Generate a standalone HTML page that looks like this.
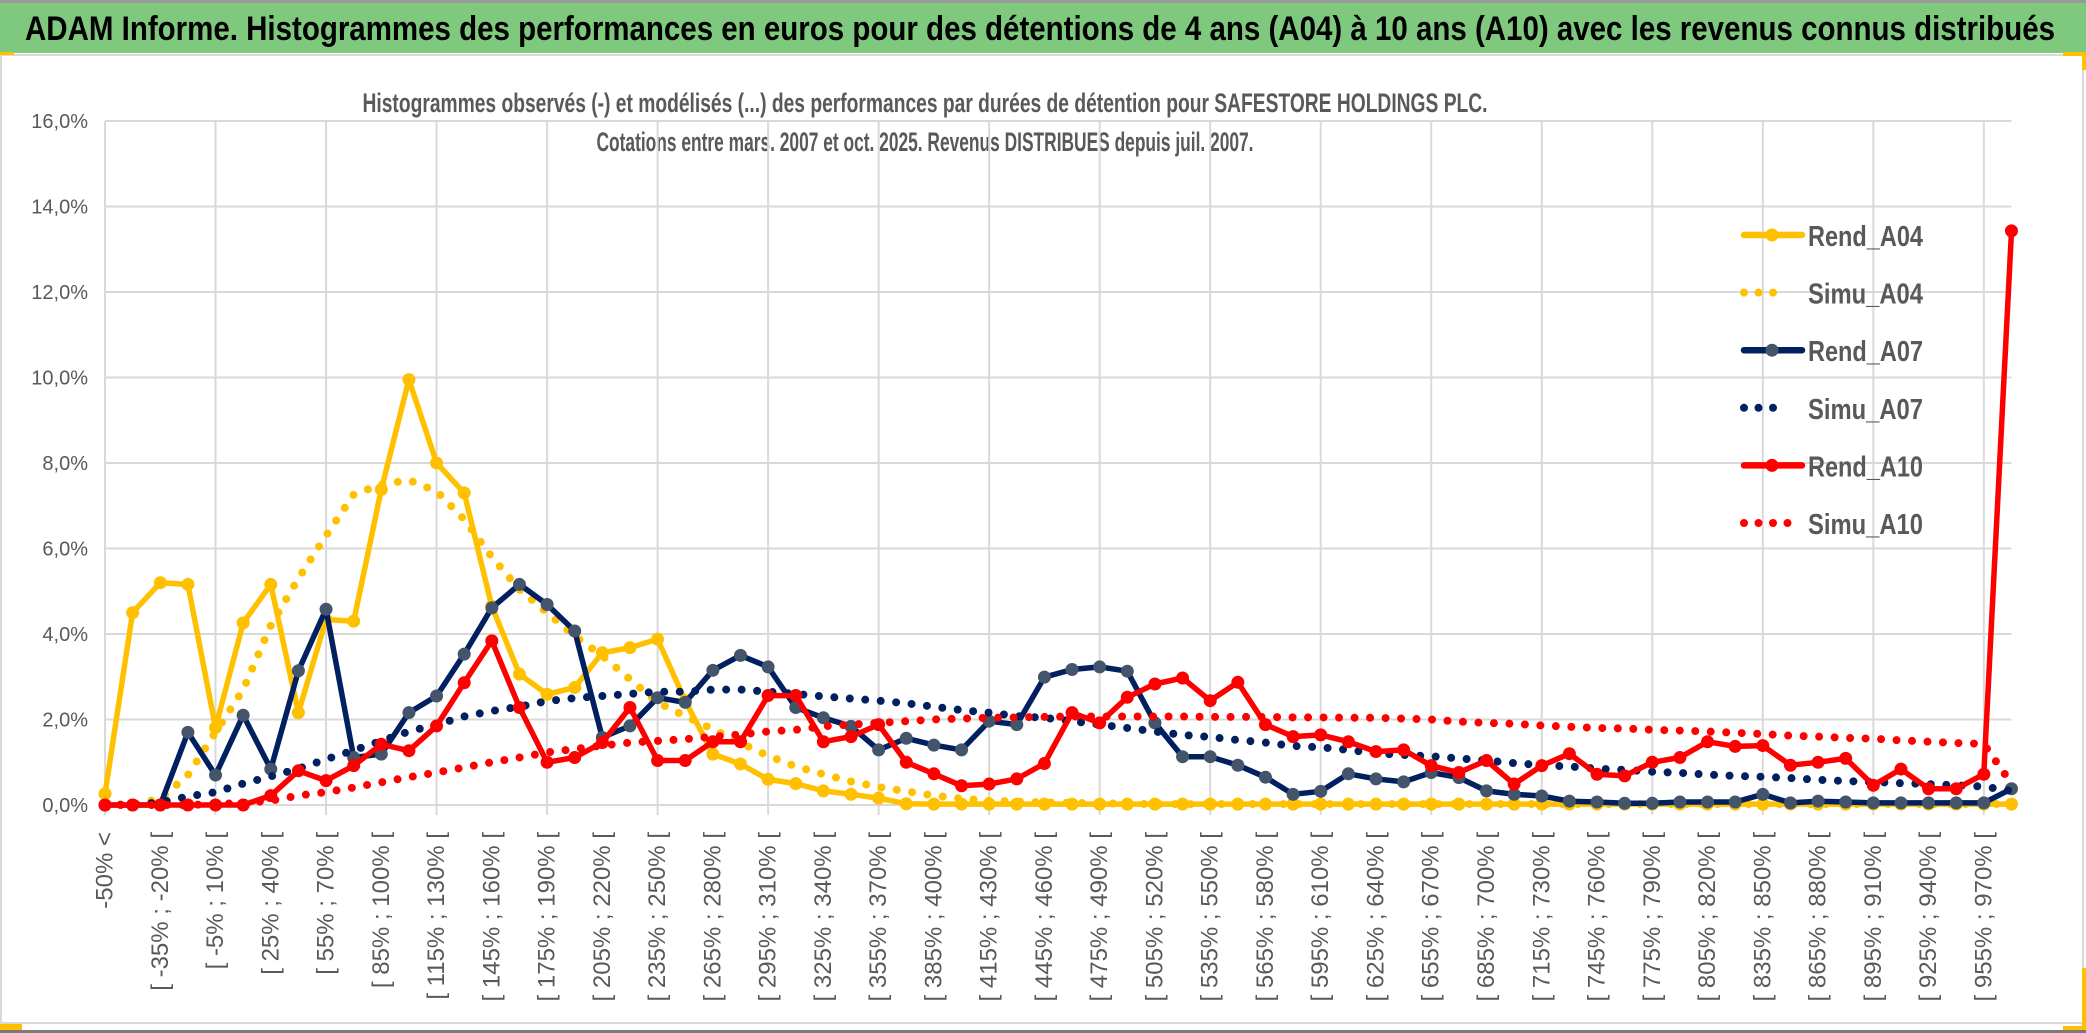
<!DOCTYPE html>
<html><head><meta charset="utf-8"><title>ADAM Informe</title>
<style>
html,body{margin:0;padding:0;background:#fff;}
svg{display:block;font-family:"Liberation Sans",sans-serif;}
</style></head>
<body>
<svg id="chart" width="2086" height="1033" viewBox="0 0 2086 1033">
  <rect x="0" y="0" width="2086" height="1033" fill="#ffffff"/>
  <rect x="0" y="0" width="2086" height="3" fill="#9a9a9a"/>
  <rect x="0" y="3" width="2086" height="50" fill="#7fc97e"/>
  <text x="25" y="40" font-size="34" font-weight="bold" fill="#000" textLength="2030" lengthAdjust="spacingAndGlyphs">ADAM Informe. Histogrammes des performances en euros pour des détentions de 4 ans (A04) à 10 ans (A10) avec les revenus connus distribués</text>
  <rect x="1" y="55" width="2082" height="968" fill="none" stroke="#d9d9d9" stroke-width="2"/>
  <rect x="0" y="52" width="14" height="3" fill="#ffc000"/>
  <rect x="2063" y="52" width="23" height="4" fill="#ffc000"/>
  <rect x="2082" y="52" width="4" height="18" fill="#ffc000"/>
  <rect x="2082" y="968" width="4" height="62" fill="#ffc000"/>
  <rect x="2063" y="1026" width="23" height="4" fill="#ffc000"/>
  <rect x="0" y="1030" width="2086" height="3" fill="#7a7a7a"/>
  <rect x="0" y="1024" width="22" height="6" fill="#ffc000"/>
  <text x="925" y="112" font-size="27" font-weight="bold" fill="#595959" text-anchor="middle" textLength="1125" lengthAdjust="spacingAndGlyphs">Histogrammes observés (-) et modélisés (...) des performances par durées de détention pour SAFESTORE HOLDINGS PLC.</text>
  <text x="925" y="151" font-size="27" font-weight="bold" fill="#595959" text-anchor="middle" textLength="657" lengthAdjust="spacingAndGlyphs">Cotations entre mars. 2007 et oct. 2025. Revenus DISTRIBUES depuis juil. 2007.</text>
  <g id="grid"></g>
  <g id="yaxis"></g>
  <g id="xaxis"></g>
  <g id="series"></g>
  <g id="legend"></g>
</svg>
<script>
const categories = ["-50% <","[ -50% ; -35% [","[ -35% ; -20% [","[ -20% ; -5% [","[ -5% ; 10% [","[ 10% ; 25% [","[ 25% ; 40% [","[ 40% ; 55% [","[ 55% ; 70% [","[ 70% ; 85% [","[ 85% ; 100% [","[ 100% ; 115% [","[ 115% ; 130% [","[ 130% ; 145% [","[ 145% ; 160% [","[ 160% ; 175% [","[ 175% ; 190% [","[ 190% ; 205% [","[ 205% ; 220% [","[ 220% ; 235% [","[ 235% ; 250% [","[ 250% ; 265% [","[ 265% ; 280% [","[ 280% ; 295% [","[ 295% ; 310% [","[ 310% ; 325% [","[ 325% ; 340% [","[ 340% ; 355% [","[ 355% ; 370% [","[ 370% ; 385% [","[ 385% ; 400% [","[ 400% ; 415% [","[ 415% ; 430% [","[ 430% ; 445% [","[ 445% ; 460% [","[ 460% ; 475% [","[ 475% ; 490% [","[ 490% ; 505% [","[ 505% ; 520% [","[ 520% ; 535% [","[ 535% ; 550% [","[ 550% ; 565% [","[ 565% ; 580% [","[ 580% ; 595% [","[ 595% ; 610% [","[ 610% ; 625% [","[ 625% ; 640% [","[ 640% ; 655% [","[ 655% ; 670% [","[ 670% ; 685% [","[ 685% ; 700% [","[ 700% ; 715% [","[ 715% ; 730% [","[ 730% ; 745% [","[ 745% ; 760% [","[ 760% ; 775% [","[ 775% ; 790% [","[ 790% ; 805% [","[ 805% ; 820% [","[ 820% ; 835% [","[ 835% ; 850% [","[ 850% ; 865% [","[ 865% ; 880% [","[ 880% ; 895% [","[ 895% ; 910% [","[ 910% ; 925% [","[ 925% ; 940% [","[ 940% ; 955% [","[ 955% ; 970% [","970% >"];
const yTicks = [0,2,4,6,8,10,12,14,16];
const yTickLabels = ["0,0%","2,0%","4,0%","6,0%","8,0%","10,0%","12,0%","14,0%","16,0%"];
const rendA04 = [0.26,4.5,5.2,5.16,1.81,4.26,5.16,2.16,4.34,4.3,7.38,9.95,8.0,7.3,4.65,3.06,2.59,2.75,3.56,3.68,3.88,2.44,1.19,0.96,0.6,0.5,0.33,0.25,0.16,0.03,0.02,0.02,0.02,0.02,0.02,0.02,0.02,0.02,0.02,0.02,0.02,0.02,0.02,0.02,0.02,0.02,0.02,0.02,0.02,0.02,0.02,0.02,0.02,0.02,0.02,0.02,0.02,0.02,0.02,0.02,0.02,0.02,0.02,0.02,0.02,0.02,0.02,0.02,0.02,0.02];
const simuA04 = [0,0.02,0.14,0.7,1.7,2.7,4.2,5.3,6.3,7.26,7.5,7.6,7.34,6.68,5.8,5.04,4.5,3.95,3.49,2.94,2.4,2.08,1.77,1.45,1.15,0.9,0.72,0.55,0.42,0.32,0.22,0.15,0.1,0.08,0.06,0.05,0.04,0.03,0.02,0.02,0.02,0.02,0.02,0.02,0.02,0.02,0.02,0.02,0.02,0.02,0.02,0.02,0.02,0.02,0.02,0.02,0.02,0.02,0.02,0.02,0.02,0.02,0.02,0.02,0.02,0.02,0.02,0.02,0.02,0.02];
const rendA07 = [0,0,0,1.7,0.7,2.1,0.84,3.14,4.58,1.11,1.19,2.16,2.55,3.53,4.61,5.16,4.69,4.07,1.58,1.85,2.51,2.4,3.15,3.5,3.23,2.28,2.04,1.84,1.29,1.56,1.4,1.29,1.96,1.88,2.99,3.17,3.23,3.13,1.92,1.13,1.13,0.93,0.65,0.25,0.32,0.73,0.61,0.54,0.76,0.64,0.33,0.25,0.21,0.09,0.07,0.04,0.04,0.07,0.07,0.07,0.25,0.05,0.09,0.07,0.05,0.05,0.05,0.05,0.05,0.38];
const simuA07 = [0,0.01,0.06,0.2,0.3,0.5,0.67,0.85,1.07,1.28,1.5,1.72,1.88,2.07,2.2,2.3,2.43,2.5,2.55,2.6,2.65,2.65,2.7,2.7,2.65,2.6,2.54,2.49,2.44,2.38,2.3,2.22,2.16,2.08,2.04,1.96,1.88,1.8,1.72,1.64,1.59,1.52,1.46,1.38,1.35,1.29,1.21,1.17,1.14,1.09,1.04,0.98,0.93,0.9,0.85,0.82,0.78,0.75,0.71,0.68,0.66,0.63,0.59,0.56,0.54,0.51,0.49,0.46,0.43,0.33];
const rendA10 = [0,0,0,0,0,0,0.22,0.8,0.57,0.92,1.42,1.27,1.85,2.86,3.84,2.28,1.0,1.11,1.46,2.28,1.04,1.04,1.48,1.48,2.56,2.56,1.48,1.6,1.88,1.0,0.73,0.45,0.49,0.61,0.97,2.16,1.92,2.52,2.83,2.97,2.44,2.87,1.88,1.6,1.64,1.48,1.25,1.29,0.92,0.76,1.04,0.49,0.92,1.2,0.72,0.68,1.0,1.11,1.48,1.37,1.39,0.93,1.0,1.09,0.46,0.84,0.38,0.38,0.72,13.43];
const simuA10 = [0,0,0,0,0.02,0.05,0.1,0.22,0.3,0.41,0.53,0.65,0.76,0.88,1.0,1.11,1.23,1.31,1.39,1.46,1.5,1.54,1.6,1.65,1.72,1.76,1.84,1.88,1.92,1.96,2.0,2.02,2.04,2.05,2.06,2.07,2.07,2.07,2.07,2.07,2.06,2.06,2.06,2.05,2.05,2.04,2.04,2.02,2.0,1.95,1.92,1.9,1.86,1.83,1.8,1.79,1.76,1.74,1.72,1.69,1.66,1.62,1.6,1.57,1.55,1.51,1.48,1.45,1.43,0.5];
const seriesNames = ["Rend_A04","Simu_A04","Rend_A07","Simu_A07","Rend_A10","Simu_A10"];

const NS = "http://www.w3.org/2000/svg";
const X0 = 105, XSTEP = 27.63, Y0 = 805, YMAX = 16, YTOP = 121;
function xPos(i){ return X0 + i * XSTEP; }
function yPos(v){ return Y0 - (v / YMAX) * (Y0 - YTOP); }
function mk(tag, attrs, parent){
  const e = document.createElementNS(NS, tag);
  for (const k in attrs) e.setAttribute(k, attrs[k]);
  parent.appendChild(e);
  return e;
}
const grid = document.getElementById('grid');
const yaxis = document.getElementById('yaxis');
const xaxis = document.getElementById('xaxis');
const seriesG = document.getElementById('series');
const legend = document.getElementById('legend');
const xEnd = xPos(categories.length - 1);

yTicks.forEach((t, i) => {
  const ln = mk('line', {x1: X0, x2: xEnd, y1: yPos(t), y2: yPos(t), stroke: '#d9d9d9', 'stroke-width': 2}, grid);
  
  
  const tx = mk('text', {x: 88, y: yPos(t) + 7, 'font-size': 20, fill: '#595959', 'text-anchor': 'end'}, yaxis);
  tx.textContent = yTickLabels[i];
  
  
});
categories.forEach((c, i) => {
  if (i % 4 === 0) {
    const ln = mk('line', {x1: xPos(i), x2: xPos(i), y1: YTOP, y2: Y0 + 10, stroke: '#d9d9d9', 'stroke-width': 2}, grid);
    
    
  }
  if (i % 2 === 0) {
    const x = xPos(i), y = 832;
    const tx = mk('text', {x: x, y: y, 'font-size': 24, fill: '#595959', 'text-anchor': 'end', 'dominant-baseline': 'central', transform: 'rotate(-90 ' + x + ' ' + y + ')'}, xaxis);
    tx.textContent = c;
    
    
  }
});

function drawSolid(vals, color, markerColor, name){
  const g = mk('g', {}, seriesG);
  
  
  const pts = vals.map((v, i) => xPos(i).toFixed(1) + ',' + yPos(v).toFixed(1)).join(' ');
  const pl = mk('polyline', {points: pts, fill: 'none', stroke: color, 'stroke-width': 5.5, 'stroke-linejoin': 'round', 'stroke-linecap': 'round'}, g);
  
  
  vals.forEach((v, i) => {
    const c = mk('circle', {cx: xPos(i), cy: yPos(v), r: 6.5, fill: markerColor}, g);
    
    
  });
}
function drawDotted(vals, color, name){
  const pts = vals.map((v, i) => xPos(i).toFixed(1) + ',' + yPos(v).toFixed(1)).join(' ');
  const pl = mk('polyline', {points: pts, fill: 'none', stroke: color, 'stroke-width': 8, 'stroke-dasharray': '0 15.5', 'stroke-linecap': 'round', 'stroke-linejoin': 'round'}, seriesG);
  
  
}
drawSolid(rendA04, '#ffc000', '#ffc000', 'rend-a04');
drawDotted(simuA04, '#ffc000', 'simu-a04');
drawSolid(rendA07, '#002060', '#44546a', 'rend-a07');
drawDotted(simuA07, '#002060', 'simu-a07');
drawSolid(rendA10, '#ff0000', '#ff0000', 'rend-a10');
drawDotted(simuA10, '#ff0000', 'simu-a10');

const legColors = ['#ffc000','#ffc000','#002060','#002060','#ff0000','#ff0000'];
const legMarkers = ['#ffc000',null,'#44546a',null,'#ff0000',null];
seriesNames.forEach((n, i) => {
  const cy = 235 + i * 57.6;
  const g = mk('g', {}, legend);
  
  
  if (legMarkers[i]) {
    mk('line', {x1: 1744, x2: 1802, y1: cy, y2: cy, stroke: legColors[i], 'stroke-width': 6.5, 'stroke-linecap': 'round'}, g);
    mk('circle', {cx: 1772, cy: cy, r: 6.5, fill: legMarkers[i]}, g);
  } else {
    const nd = (i === 5) ? 5 : 4;
    mk('line', {x1: 1744, x2: 1744 + (nd - 1) * 14.5, y1: cy, y2: cy, stroke: legColors[i], 'stroke-width': 8, 'stroke-dasharray': '0 14.5', 'stroke-linecap': 'round'}, g);
  }
  const tx = mk('text', {x: 1808, y: cy + 11, 'font-size': 29, 'font-weight': 'bold', fill: '#595959', textLength: 115, lengthAdjust: 'spacingAndGlyphs'}, g);
  tx.textContent = n;
});
</script>
</body></html>
